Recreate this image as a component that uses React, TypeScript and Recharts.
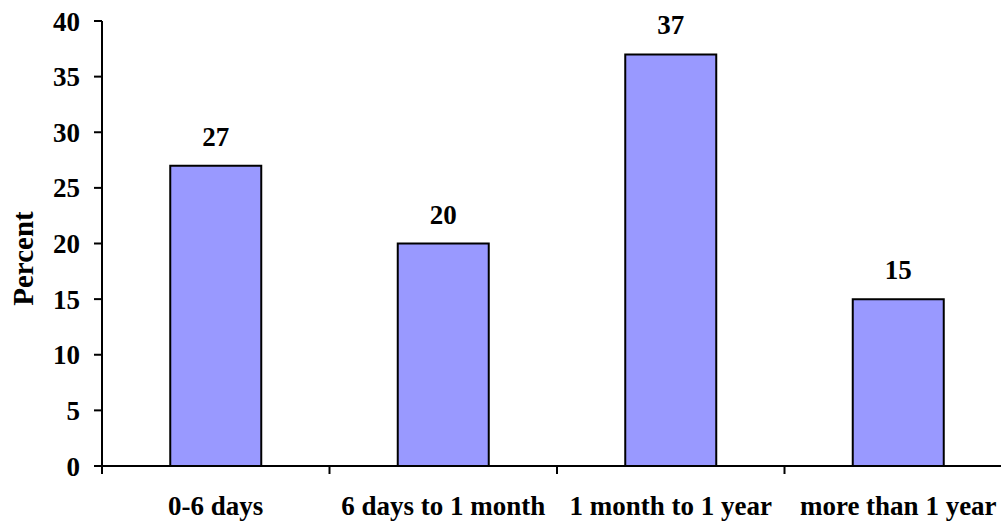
import { BarChart, Bar, XAxis, YAxis, LabelList } from 'recharts';

const categories = ['0-6 days', '6 days to 1 month', '1 month to 1 year', 'more than 1 year'];
const percents = [27, 20, 37, 15];
const yTicks = [0, 5, 10, 15, 20, 25, 30, 35, 40];
const edgeTicks = [0, 1, 2, 3, 4];

const chartData = categories.map((name, i) => ({ name, value: percents[i] }));

const font = '"Liberation Serif", "Times New Roman", serif';
const textStyle = { fontFamily: font, fontWeight: 'bold' as const, fontSize: 27, fill: '#000' };

const PercentLabel = ({ viewBox }: any) => {
  const cx = viewBox.x + 23;
  const cy = viewBox.y + viewBox.height / 2 + 15;
  return (
    <text
      x={cx}
      y={cy}
      transform={`rotate(-90 ${cx} ${cy})`}
      textAnchor="middle"
      dominantBaseline="central"
      style={{ ...textStyle, fontSize: 29 }}
    >
      Percent
    </text>
  );
};

export default function App() {
  return (
    <div style={{ position: 'fixed', left: 0, top: 0, width: 1012, height: 523, background: '#fff' }}>
      <BarChart
        width={1012}
        height={523}
        data={chartData}
        margin={{ top: 21, right: 0, left: 0, bottom: 0 }}
        barCategoryGap="30%"
      >
        <XAxis
          xAxisId="cat"
          dataKey="name"
          height={56}
          axisLine={false}
          tickLine={false}
          tickSize={0}
          tickMargin={29}
          interval={0}
          tick={textStyle}
        />
        {/* boundary ticks between categories */}
        <XAxis
          xAxisId="axisEdge"
          dataKey="edge"
          type="number"
          domain={[0, 4]}
          allowDataOverflow
          ticks={edgeTicks}
          interval={0}
          tick={{ fontSize: 1, fill: 'none' }}
          tickFormatter={() => ''}
          tickSize={8}
          height={1}
          axisLine={{ stroke: '#000', strokeWidth: 2 }}
          tickLine={{ stroke: '#000', strokeWidth: 2 }}
        />
        <YAxis
          width={102}
          domain={[0, 40]}
          ticks={yTicks}
          interval={0}
          tickSize={8}
          tickMargin={14}
          tick={textStyle}
          axisLine={{ stroke: '#000', strokeWidth: 2 }}
          tickLine={{ stroke: '#000', strokeWidth: 2 }}
          label={<PercentLabel />}
        />
        <Bar
          xAxisId="cat"
          dataKey="value"
          fill="#9999FF"
          stroke="#000"
          strokeWidth={2}
          isAnimationActive={false}
        >
          <LabelList dataKey="value" position="top" offset={20} style={textStyle} />
        </Bar>
      </BarChart>
    </div>
  );
}
